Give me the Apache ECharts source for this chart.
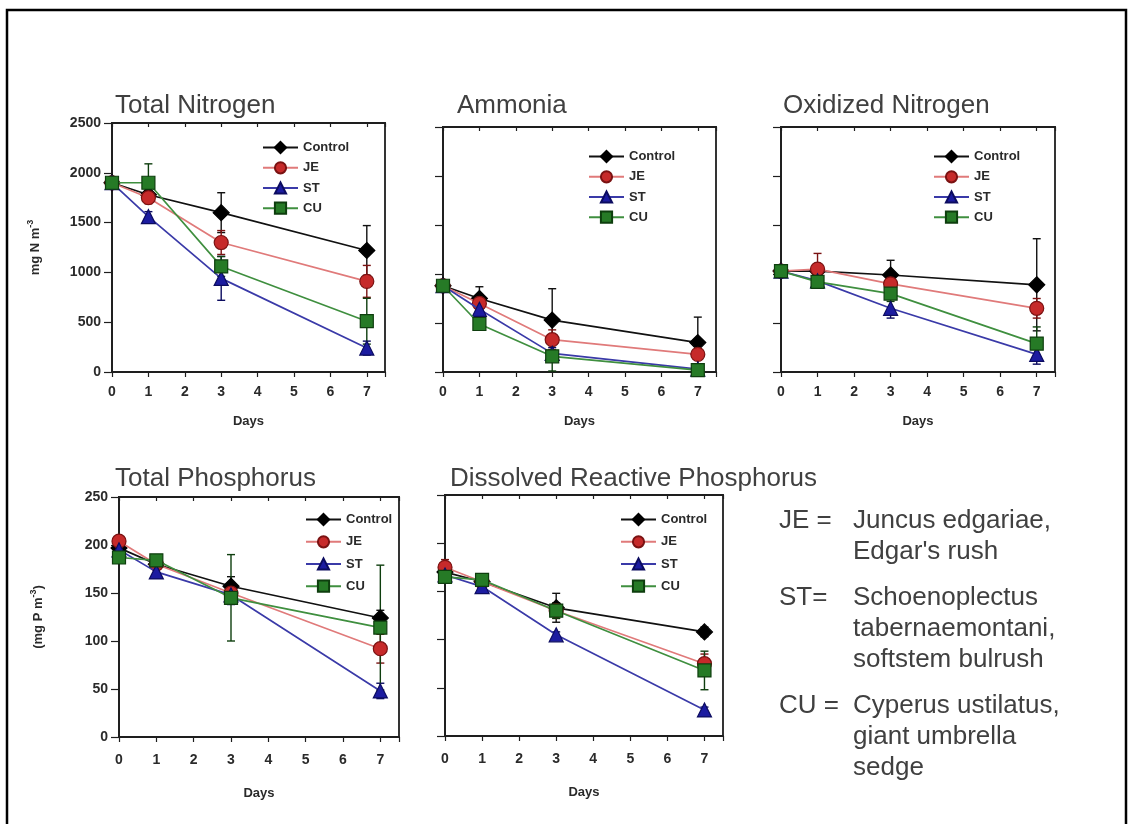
<!DOCTYPE html>
<html>
<head>
<meta charset="utf-8">
<script src="https://cdn.jsdelivr.net/npm/echarts@6/dist/echarts.min.js"></script>
<style>
html,body{margin:0;padding:0;background:#fff;}
#chart{width:1128px;height:824px;}
</style>
</head>
<body>
<div id="chart"></div>
<script>
// ---------------- data ----------------
const days = [0, 1, 3, 7];
const treatments = ['Control', 'JE', 'ST', 'CU'];

// Total Nitrogen (mg N m-3)
const tnControl = [1900, 1780, 1600, 1220];
const tnJE      = [1900, 1750, 1300, 910];
const tnST      = [1900, 1560, 940, 240];
const tnCU      = [1900, 1900, 1060, 510];
const tnErr = [[60, 60, 200, 250], [40, 60, 120, 160], [40, 50, 220, 70], [40, 190, 100, 230]];

// Ammonia
const nhControl = [880, 750, 530, 300];
const nhJE      = [880, 700, 330, 180];
const nhST      = [880, 640, 190, 30];
const nhCU      = [880, 490, 160, 20];
const nhErr = [[30, 120, 320, 260], [30, 60, 100, 50], [30, 80, 60, 20], [30, 60, 150, 20]];

// Oxidized Nitrogen
const noControl = [1030, 1030, 990, 890];
const noJE      = [1030, 1050, 900, 650];
const noST      = [1030, 930, 650, 180];
const noCU      = [1030, 920, 800, 290];
const noErr = [[30, 60, 150, 470], [30, 160, 80, 100], [30, 40, 100, 100], [30, 40, 80, 170]];

// Total Phosphorus (mg P m-3)
const tpControl = [197, 180, 157, 124];
const tpJE      = [204, 180, 150, 92];
const tpST      = [195, 172, 148, 48];
const tpCU      = [187, 184, 145, 114];
const tpErr = [[5, 5, 10, 8], [5, 5, 10, 15], [5, 4, 10, 8], [5, 5, 45, 65]];

// Dissolved Reactive Phosphorus
const drpControl = [170, 160, 133, 108];
const drpJE      = [175, 160, 130, 75];
const drpST      = [167, 155, 105, 27];
const drpCU      = [165, 162, 130, 68];
const drpErr = [[5, 4, 15, 5], [8, 4, 8, 10], [4, 3, 3, 3], [5, 4, 8, 20]];

const panelTitles = ['Total Nitrogen', 'Ammonia', 'Oxidized Nitrogen', 'Total Phosphorus', 'Dissolved Reactive Phosphorus'];
const xTicks = [0, 1, 2, 3, 4, 5, 6, 7];

const notes = [
  ['JE =', ['Juncus edgariae,', "Edgar's rush"]],
  ['ST=', ['Schoenoplectus', 'tabernaemontani,', 'softstem bulrush']],
  ['CU =', ['Cyperus ustilatus,', 'giant umbrella', 'sedge']]
];

// ---------------- styling ----------------
const FONT = 'Liberation Sans, Arial, sans-serif';
const lineColors = ['#111111', '#e07a7a', '#3a3aa8', '#3f8f3f'];
const symbolFill = ['#000000', '#c62a2a', '#1c1ca0', '#267a26'];
const symbolBorder = ['#000000', '#7a1212', '#0c0c60', '#0e3e0e'];
const symbols = ['diamond', 'circle', 'triangle', 'rect'];
const symbolSizes = [16, 14, 14, 13];
const AX = '#1e1e1e';

const panels = [
  {vals: [tnControl, tnJE, tnST, tnCU], err: tnErr, max: 2500, step: 500, labels: true,
   grid: {left: 112, top: 123, width: 273, height: 249}, legend: {left: 262, top: 141, gap: 7},
   title: {left: 110, top: 88}, lblMargin: 13, daysGap: 43, yGap: 70,
   yname: ['mg N m', '-3']},
  {vals: [nhControl, nhJE, nhST, nhCU], err: nhErr, max: 2500, step: 500, labels: false,
   grid: {left: 443, top: 127, width: 273, height: 245}, legend: {left: 588, top: 150, gap: 7},
   title: {left: 452, top: 88}, lblMargin: 13, daysGap: 43},
  {vals: [noControl, noJE, noST, noCU], err: noErr, max: 2500, step: 500, labels: false,
   grid: {left: 781, top: 127, width: 274, height: 245}, legend: {left: 933, top: 150, gap: 7},
   title: {left: 778, top: 88}, lblMargin: 13, daysGap: 43},
  {vals: [tpControl, tpJE, tpST, tpCU], err: tpErr, max: 250, step: 50, labels: true,
   grid: {left: 119, top: 497, width: 280, height: 240}, legend: {left: 305, top: 513, gap: 9},
   title: {left: 110, top: 461}, lblMargin: 16, daysGap: 50, yGap: 74,
   yname: ['(mg P m', '-3', ')']},
  {vals: [drpControl, drpJE, drpST, drpCU], err: drpErr, max: 250, step: 50, labels: false,
   grid: {left: 445, top: 495, width: 278, height: 241}, legend: {left: 620, top: 513, gap: 9},
   title: {left: 445, top: 461}, lblMargin: 16, daysGap: 50}
];

const grids = [], xAxes = [], yAxes = [], series = [], legends = [], titles = [];

function errRender(color) {
  return function (params, api) {
    const x = api.value(0);
    const lo = api.coord([x, api.value(1)]);
    const hi = api.coord([x, api.value(2)]);
    const c = 4;
    const st = {stroke: color, lineWidth: 1.4};
    return {
      type: 'group',
      children: [
        {type: 'line', shape: {x1: lo[0], y1: lo[1], x2: hi[0], y2: hi[1]}, style: st},
        {type: 'line', shape: {x1: hi[0] - c, y1: hi[1], x2: hi[0] + c, y2: hi[1]}, style: st},
        {type: 'line', shape: {x1: lo[0] - c, y1: lo[1], x2: lo[0] + c, y2: lo[1]}, style: st}
      ]
    };
  };
}

const boldText = {fontFamily: FONT, fontSize: 14, fontWeight: 'bold', color: '#2a2a2a'};

panels.forEach((p, gi) => {
  grids.push(Object.assign({show: true, borderColor: AX, borderWidth: 1.8, backgroundColor: '#fff'}, p.grid));
  // bottom x axis
  xAxes.push({
    type: 'value', gridIndex: gi, min: 0, max: 7.5, interval: 1, position: 'bottom',
    name: 'Days', nameLocation: 'middle', nameGap: p.daysGap,
    nameTextStyle: Object.assign({}, boldText, {fontSize: 13}),
    axisLine: {show: true, onZero: false, lineStyle: {color: AX, width: 1.8}},
    axisTick: {show: true, length: 5, lineStyle: {color: AX, width: 1.2}},
    axisLabel: Object.assign({margin: p.lblMargin, formatter: v => (xTicks.indexOf(v) >= 0 ? String(v) : '')}, boldText),
    splitLine: {show: false}
  });
  // top x axis (inner ticks only)
  xAxes.push({
    type: 'value', gridIndex: gi, min: 0, max: 7.5, interval: 1, position: 'top',
    axisLine: {show: true, onZero: false, lineStyle: {color: AX, width: 1.8}},
    axisTick: {show: true, inside: true, length: 4, lineStyle: {color: AX, width: 1.2}},
    axisLabel: {show: false}, splitLine: {show: false}
  });
  const y = {
    type: 'value', gridIndex: gi, min: 0, max: p.max, interval: p.step,
    axisLine: {show: true, lineStyle: {color: AX, width: 1.8}},
    axisTick: {show: true, length: 8, lineStyle: {color: AX, width: 1.2}},
    axisLabel: Object.assign({show: p.labels, margin: 11, formatter: v => String(v)}, boldText),
    splitLine: {show: false}
  };
  if (p.yname) {
    const parts = p.yname;
    y.name = '{a|' + parts[0] + '}{s|' + parts[1] + '}' + (parts[2] ? '{a|' + parts[2] + '}' : '');
    y.nameLocation = 'middle';
    y.nameRotate = 90;
    y.nameGap = p.yGap;
    y.nameTextStyle = {
      rich: {
        a: {fontFamily: FONT, fontSize: 13, fontWeight: 'bold', color: '#2a2a2a', lineHeight: 16, verticalAlign: 'bottom'},
        s: {fontFamily: FONT, fontSize: 9, fontWeight: 'bold', color: '#2a2a2a', lineHeight: 16, verticalAlign: 'top', padding: [0, 0, 7, 0]}
      }
    };
  }
  yAxes.push(y);

  titles.push({
    text: panelTitles[gi], left: p.title.left, top: p.title.top,
    textStyle: {fontFamily: FONT, fontSize: 26, fontWeight: 'normal', color: '#404040'}
  });

  legends.push({
    data: treatments, orient: 'vertical', left: p.legend.left, top: p.legend.top,
    itemWidth: 35, itemHeight: 14, itemGap: p.legend.gap, selectedMode: false, padding: 0,
    textStyle: Object.assign({}, boldText, {fontSize: 13})
  });

  treatments.forEach((t, ti) => {
    const v = p.vals[ti];
    const e = p.err[ti];
    series.push({
      name: t + ' err', type: 'custom', xAxisIndex: gi * 2, yAxisIndex: gi,
      renderItem: errRender(ti === 0 ? '#111111' : symbolBorder[ti]),
      encode: {x: 0, y: [1, 2]},
      data: days.map((d, i) => [d, v[i] - e[i], v[i] + e[i]]),
      z: 2, silent: true
    });
  });
  treatments.forEach((t, ti) => {
    const v = p.vals[ti];
    series.push({
      name: t, type: 'line', xAxisIndex: gi * 2, yAxisIndex: gi,
      data: days.map((d, i) => [d, v[i]]),
      symbol: symbols[ti], symbolSize: symbolSizes[ti], showAllSymbol: true,
      lineStyle: {color: lineColors[ti], width: 1.7},
      itemStyle: {color: symbolFill[ti], borderColor: symbolBorder[ti], borderWidth: 1.2},
      z: 3 + ti, animation: false, silent: true
    });
  });
});

// right-hand notes & outer frame
const graphics = [{
  type: 'rect', shape: {x: 7, y: 10, width: 1119, height: 830},
  style: {fill: null, stroke: '#000', lineWidth: 2.5}, silent: true
}];
const noteTops = [505, 582, 690];
const lineH = 31;
notes.forEach((n, i) => {
  graphics.push({type: 'text', left: 779, top: noteTops[i],
    style: {text: n[0], font: '26px ' + FONT, fill: '#404040', lineHeight: lineH}});
  graphics.push({type: 'text', left: 853, top: noteTops[i],
    style: {text: n[1].join('\n'), font: '26px ' + FONT, fill: '#404040', lineHeight: lineH}});
});

const chart = echarts.init(document.getElementById('chart'), null, {renderer: 'canvas'});
chart.setOption({
  backgroundColor: '#ffffff',
  animation: false,
  title: titles,
  grid: grids,
  xAxis: xAxes,
  yAxis: yAxes,
  legend: legends,
  series: series,
  graphic: graphics
});
</script>
</body>
</html>
